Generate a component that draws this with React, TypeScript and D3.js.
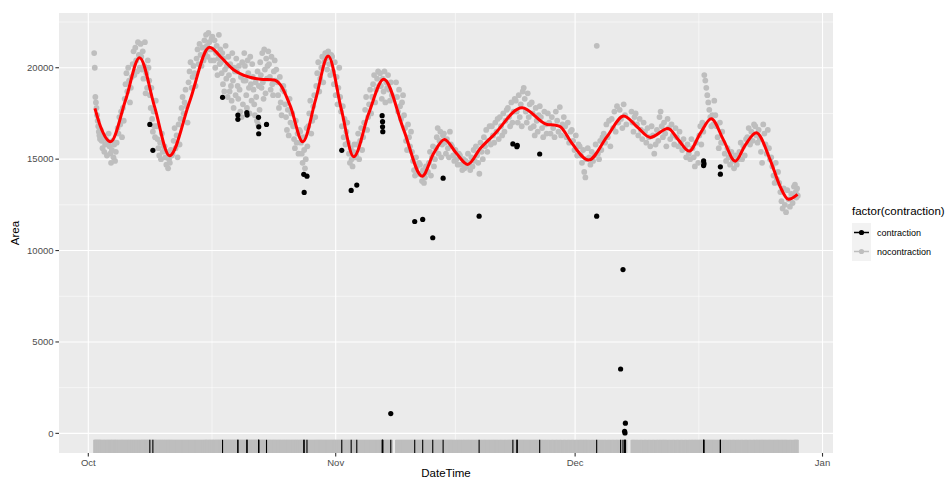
import React, { useEffect, useRef } from "react";
import * as d3 from "d3";

const W = 952;
const H = 482;
const START = Date.UTC(2018, 9, 1); // 1 Oct
const DAY = 86400000;

// red smoothed line: days since 1 Oct / Area
const smoothDays = [0.83, 1.54, 2.79, 4.67, 6.42, 8.3, 10.18, 12.69, 15.19, 16.57, 18.24, 21.58, 23.25, 24.08, 25.34, 26.88, 28.47, 30.06, 31.72, 33.26, 35.14, 37.02, 39.53, 41.83, 43.28, 44.62, 46.12, 47.54, 49.13, 50.8, 54.35, 57.48, 58.52, 59.15, 60.61, 62.7, 65.0, 67.09, 68.75, 70.42, 72.64, 73.97, 75.3, 76.68, 78.06, 79.6, 81.07, 82.32, 83.7, 85.45, 86.7, 87.74, 88.87];
const smoothArea = [17780, 16770, 15950, 18230, 20550, 17870, 15190, 18140, 21120, 20600, 19880, 19370, 19330, 19060, 17870, 15950, 18240, 20640, 17690, 15130, 17510, 19370, 16590, 14070, 15320, 16080, 15320, 14710, 15590, 16320, 17810, 16900, 16860, 16770, 15860, 14950, 16230, 17360, 16770, 16190, 16670, 16040, 15440, 16410, 17210, 16040, 14890, 15770, 16440, 14950, 13490, 12800, 13070];

// contraction points
const contractionDays = [7.71, 8.09, 16.82, 18.74, 18.74, 19.86, 19.9, 21.33, 21.36, 21.35, 22.33, 27.0, 27.4, 27.05, 31.76, 32.94, 33.64, 36.82, 36.87, 36.87, 36.9, 37.9, 40.9, 41.9, 43.16, 44.46, 48.97, 53.2, 53.7, 53.75, 56.56, 63.7, 66.7, 67.0, 67.2, 67.3, 67.25, 77.1, 77.15, 77.1, 79.2, 79.2];
const contractionArea = [16900, 15480, 18380, 17410, 17180, 17540, 17410, 17290, 16770, 16390, 16900, 14170, 14070, 13180, 15480, 13290, 13580, 17380, 17050, 16770, 16500, 1080, 11590, 11700, 10700, 13960, 11880, 15830, 15680, 15750, 15280, 11880, 3520, 8960, 110, 560, 20, 14900, 14750, 14650, 14580, 14180];

// noncontraction samples: [from day, to day, consecutive Area readings]
const noncontractionRows: [number, number, number[]][] = [
  [0.7, 1.5, [20800, 20000, 18400, 18100, 17800, 17400, 17100, 16800, 16500, 16300, 16100]],
  [1.5, 2.5, [16600, 16000, 15600, 16300, 15400, 15800, 16100, 15200, 15900]],
  [2.5, 3.5, [16400, 15700, 15300, 14800, 15500, 16000, 15100, 15800, 14900, 15400]],
  [3.5, 4.5, [15900, 16700, 16400, 17300, 16900, 17600, 16200, 17800, 17100]],
  [4.5, 5.5, [18300, 19100, 19700, 18700, 20000, 19300, 18100, 18900, 19500]],
  [5.5, 6.5, [20200, 20900, 19600, 21100, 20400, 19800, 21400, 20700, 20000]],
  [6.5, 7.5, [21300, 20600, 19900, 20900, 19400, 20100, 21400, 18600, 19700, 18900, 20400]],
  [7.5, 8.5, [20000, 19300, 18500, 17800, 18900, 17200, 16500, 17600, 16800, 16200, 18200]],
  [8.5, 9.5, [16800, 16100, 15600, 15200, 15900, 15000, 16400, 15400, 15700]],
  [9.5, 10.5, [15700, 15100, 14700, 15400, 14500, 15000, 14800, 15500, 15200]],
  [10.5, 11.5, [15300, 16000, 16700, 15600, 16300, 15100, 16900, 15800]],
  [11.5, 12.5, [17200, 17800, 18400, 17500, 18100, 18800, 17900, 17000]],
  [12.5, 13.5, [19200, 19800, 20300, 18900, 19500, 20100, 19700, 19000]],
  [13.5, 14.5, [20500, 21000, 20200, 21300, 20700, 20100, 21100, 20400]],
  [14.5, 15.5, [21500, 20800, 21800, 21200, 20600, 21900, 21400, 21000, 20400, 21600]],
  [15.5, 16.5, [21700, 21000, 20400, 21500, 20000, 20800, 21200, 19600, 20500, 21800, 20200]],
  [16.5, 17.5, [21000, 20300, 19700, 20800, 19100, 20500, 18700, 19900, 21200, 19400, 20100, 18400]],
  [17.5, 18.5, [20600, 19600, 18700, 20200, 19000, 18200, 20800, 19300, 17800, 20000, 19800, 18500]],
  [18.5, 19.5, [20500, 19800, 19000, 18300, 20100, 18800, 17600, 19500, 17300, 20300, 18000, 19300]],
  [19.5, 20.5, [20800, 20100, 19300, 18500, 17800, 20400, 19700, 18900, 17500, 20600, 19100, 18200]],
  [20.5, 21.5, [20200, 19500, 18800, 18000, 17400, 19200, 18400, 17100, 19800, 16900, 19000, 17700]],
  [21.5, 22.5, [20300, 19600, 18900, 20800, 19200, 18300, 21000, 19900, 18600, 20500, 19400, 20100]],
  [22.5, 23.5, [20900, 20200, 19500, 18800, 20600, 19100, 18500, 19800, 20400, 19300]],
  [23.5, 24.5, [19900, 19200, 18500, 17800, 19500, 18100, 17400, 18800, 19000]],
  [24.5, 25.5, [18700, 18000, 17300, 16600, 17700, 16300, 18300, 17000, 17500]],
  [25.5, 26.5, [17500, 16800, 16100, 15600, 17100, 15900, 16400, 15300, 16600]],
  [26.5, 27.5, [16500, 15900, 15300, 14800, 16200, 15500, 14500, 15000, 16700, 15700]],
  [27.5, 28.5, [16800, 17500, 18200, 16400, 17100, 17900, 18500, 17300]],
  [28.5, 29.5, [19000, 19700, 20300, 18700, 19400, 20000, 20600, 19200]],
  [29.5, 30.5, [20300, 20800, 20500, 19900, 20900, 20200, 19600, 20700]],
  [30.5, 31.5, [20600, 19800, 19100, 20300, 18500, 19500, 18000, 18900, 20000]],
  [31.5, 32.5, [18400, 17600, 16800, 17900, 16200, 17200, 15800, 16500, 17000]],
  [32.5, 33.5, [15900, 15300, 14800, 15600, 15000, 14600, 15400, 15800, 15100]],
  [33.5, 34.5, [15200, 15800, 16400, 15000, 16000, 16700, 15500, 16200]],
  [34.5, 35.5, [17000, 17700, 18400, 16600, 17300, 18000, 18800, 17500]],
  [35.5, 36.5, [18400, 19100, 19600, 18100, 18800, 19400, 19800, 19000]],
  [36.5, 37.5, [19700, 19000, 18300, 19400, 18700, 19800, 18100, 19200, 18900]],
  [37.5, 38.1, [19600, 18800, 18200, 19200, 18500]],
  [38.5, 39.5, [19200, 18400, 17600, 18800, 17900, 17200, 18100, 18500]],
  [39.5, 40.5, [17400, 16700, 16000, 15500, 16900, 16200, 15700, 16500]],
  [40.5, 41.5, [15400, 14900, 14400, 14100, 15100, 14600, 14200, 14800]],
  [41.5, 42.5, [14700, 14200, 13800, 14400, 13700, 14000, 14600, 14300]],
  [42.5, 43.5, [14300, 14800, 15400, 14100, 15100, 15700, 14600, 15000]],
  [43.5, 44.5, [15600, 16200, 16700, 15300, 16000, 16500, 15100, 15800, 16300]],
  [44.5, 45.5, [16400, 15900, 15300, 16100, 15600, 15100, 16500, 15800]],
  [45.5, 46.5, [15700, 15200, 14900, 15500, 15000, 14700, 15300]],
  [46.5, 47.5, [15200, 14700, 14400, 15000, 14500, 14900, 14600]],
  [47.5, 48.5, [15300, 14800, 14400, 15100, 14600, 15500, 14900]],
  [48.5, 49.5, [15700, 15200, 14800, 14200, 15900, 15400, 15000]],
  [49.5, 50.5, [16200, 15700, 16600, 15400, 16000, 16800, 15800]],
  [50.5, 51.5, [16800, 16300, 15900, 17000, 16500, 17200, 16100]],
  [51.5, 52.5, [17300, 16800, 16300, 17500, 16500, 17100, 17700]],
  [52.5, 53.5, [17800, 17300, 16800, 18100, 17000, 17600, 18300]],
  [53.5, 54.5, [18200, 17600, 17000, 18500, 17300, 18000, 16800, 18700]],
  [54.5, 55.5, [18900, 18300, 17600, 17000, 18600, 17300, 18000, 16700]],
  [55.5, 56.5, [18100, 17500, 16800, 16300, 17800, 17100, 16500, 17400]],
  [56.5, 57.5, [17900, 17300, 16700, 16200, 17600, 16900, 16400]],
  [57.5, 58.5, [17500, 17000, 16400, 17300, 16700, 16200]],
  [58.5, 59.5, [17600, 17100, 16500, 17850, 16300, 16900]],
  [59.5, 60.5, [17300, 16800, 16200, 17000, 15900, 16500]],
  [60.5, 61.5, [16600, 16000, 15500, 16300, 15200, 15800]],
  [61.5, 62.5, [15700, 15200, 14800, 15500, 14300, 14000, 15000]],
  [62.5, 63.5, [15600, 15100, 14700, 15400, 14900, 15200]],
  [63.5, 64.5, [15800, 21200, 15300, 15000, 16000, 15500, 16200]],
  [64.5, 65.5, [16400, 15900, 16900, 16200, 17100, 15700]],
  [65.5, 66.5, [17200, 16700, 17600, 16500, 17900, 17000]],
  [66.5, 67.5, [17700, 17200, 16700, 18000, 17400, 16900]],
  [68.0, 68.5, [17600, 17000, 16500, 17300]],
  [68.5, 69.5, [17500, 16900, 16300, 17200, 16600, 16100]],
  [69.5, 70.5, [17000, 16500, 15900, 16700, 16200, 15700]],
  [70.5, 71.5, [16800, 16300, 15300, 15800, 16600, 16000]],
  [71.5, 72.5, [17300, 17600, 16800, 16200, 17000, 16400, 15700]],
  [72.5, 73.5, [17200, 16700, 16100, 16900, 16300, 15800]],
  [73.5, 74.5, [16700, 16200, 15700, 16500, 15900, 15500]],
  [74.5, 75.5, [16100, 15600, 15100, 15800, 15300, 15000]],
  [75.5, 76.5, [16100, 15600, 15100, 14600, 15900, 15300, 14800]],
  [76.5, 77.5, [16300, 16800, 15800, 17000, 16500, 19600, 19300, 18900]],
  [77.5, 78.5, [18500, 18100, 17700, 17300, 16800, 17400, 16900, 18200]],
  [78.5, 79.5, [17400, 16800, 16200, 15600, 17000, 15900, 16500]],
  [79.5, 80.5, [15900, 15300, 14900, 15600, 15100, 14700]],
  [80.5, 81.5, [15400, 14900, 14500, 15200, 14700, 15000]],
  [81.5, 82.5, [15400, 15900, 15000, 15700, 15200, 16100]],
  [82.5, 83.5, [16200, 16700, 15800, 16500, 16000, 16900]],
  [83.5, 84.5, [16800, 16300, 15900, 16600, 16100, 15400, 14800]],
  [84.5, 85.5, [16900, 16400, 15800, 15300, 16600, 15600, 15000]],
  [85.5, 86.5, [15100, 14600, 14100, 13700, 14800, 13900, 14300]],
  [86.5, 87.5, [13700, 13200, 12700, 12300, 13400, 12500, 12100]],
  [87.5, 88.5, [13300, 12800, 12400, 13100, 12600, 13500]],
  [88.5, 88.95, [13600, 13200, 12900, 13400, 13000]],
];

const yBreaks = [0, 5000, 10000, 15000, 20000];
const yMinor = [2500, 7500, 12500, 17500, 22500];
const legendLabels = ["contraction", "nocontraction"];
const legendColors = ["#000000", "#BEBEBE"];

const FONT = "'Liberation Sans', Arial, sans-serif";

const toDate = (t: number) => new Date(START + t * DAY);

export default function App() {
  const svgRef = useRef<SVGSVGElement>(null);

  useEffect(() => {
    const svg = d3.select(svgRef.current);
    svg.selectAll("*").remove();

    const gray = noncontractionRows.flatMap(([t0, t1, vals]) =>
      vals.map((v, i) => ({ t: t0 + ((i + 0.5) * (t1 - t0)) / vals.length, v }))
    );
    const black = contractionDays.map((t, i) => ({ t, v: contractionArea[i] }));
    const all = [...gray, ...black];

    const left = 59, right = 833, top = 13, bottom = 453;

    const [tMin, tMax] = d3.extent(all, (d) => d.t) as [number, number];
    const [vMin, vMax] = d3.extent(all, (d) => d.v) as [number, number];
    const tPad = (tMax - tMin) * 0.05;
    const vPad = (vMax - vMin) * 0.05;

    const x = d3.scaleUtc().domain([toDate(tMin - tPad), toDate(tMax + tPad)]).range([left, right]);
    const y = d3.scaleLinear().domain([vMin - vPad, vMax + vPad]).range([bottom, top]);

    // panel
    svg.append("rect").attr("x", left).attr("y", top).attr("width", right - left).attr("height", bottom - top).attr("fill", "#EBEBEB");

    const months = d3.utcMonth.range(x.domain()[0], x.domain()[1]);
    const xMinor = months.slice(1).map((m, i) => new Date((m.getTime() + months[i].getTime()) / 2));

    const grid = svg.append("g");
    grid.selectAll(".ymin").data(yMinor).join("line")
      .attr("x1", left).attr("x2", right).attr("y1", (d) => y(d)).attr("y2", (d) => y(d))
      .attr("stroke", "#fff").attr("stroke-width", 0.55);
    grid.selectAll(".xmin").data(xMinor).join("line")
      .attr("y1", top).attr("y2", bottom).attr("x1", (d) => x(d)).attr("x2", (d) => x(d))
      .attr("stroke", "#fff").attr("stroke-width", 0.55);
    grid.selectAll(".ymaj").data(yBreaks).join("line")
      .attr("x1", left).attr("x2", right).attr("y1", (d) => y(d)).attr("y2", (d) => y(d))
      .attr("stroke", "#fff").attr("stroke-width", 1.1);
    grid.selectAll(".xmaj").data(months).join("line")
      .attr("y1", top).attr("y2", bottom).attr("x1", (d) => x(d)).attr("x2", (d) => x(d))
      .attr("stroke", "#fff").attr("stroke-width", 1.1);

    // points
    svg.append("g").selectAll("circle").data(gray).join("circle")
      .attr("cx", (d) => x(toDate(d.t))).attr("cy", (d) => y(d.v)).attr("r", 2.9).attr("fill", "#BEBEBE");
    svg.append("g").selectAll("circle").data(black).join("circle")
      .attr("cx", (d) => x(toDate(d.t))).attr("cy", (d) => y(d.v)).attr("r", 2.6).attr("fill", "#000");

    // smooth
    const line = d3.line<number>()
      .x((d) => x(toDate(d)))
      .y((_, i) => y(smoothArea[i]))
      .curve(d3.curveMonotoneX);
    svg.append("path").attr("d", line(smoothDays)).attr("fill", "none").attr("stroke", "#FF0000").attr("stroke-width", 3);

    // rug
    const rugLen = 0.03 * (bottom - top);
    const rug = svg.append("g");
    rug.selectAll(".g").data(gray).join("line")
      .attr("x1", (d) => x(toDate(d.t))).attr("x2", (d) => x(toDate(d.t)))
      .attr("y1", bottom).attr("y2", bottom - rugLen).attr("stroke", "#BEBEBE").attr("stroke-width", 2);
    rug.selectAll(".b").data(black).join("line")
      .attr("x1", (d) => x(toDate(d.t))).attr("x2", (d) => x(toDate(d.t)))
      .attr("y1", bottom).attr("y2", bottom - rugLen).attr("stroke", "#000").attr("stroke-width", 1.1);

    // axes
    const ax = svg.append("g").attr("font-family", FONT);
    ax.selectAll(".yt").data(yBreaks).join("line")
      .attr("x1", left - 3.6).attr("x2", left).attr("y1", (d) => y(d)).attr("y2", (d) => y(d))
      .attr("stroke", "#333").attr("stroke-width", 1.1);
    ax.selectAll(".yl").data(yBreaks).join("text")
      .attr("x", left - 5.5).attr("y", (d) => y(d)).attr("dy", "0.35em")
      .attr("text-anchor", "end").attr("font-size", 9.5).attr("fill", "#4D4D4D").text((d) => String(d));
    ax.selectAll(".xt").data(months).join("line")
      .attr("x1", (d) => x(d)).attr("x2", (d) => x(d)).attr("y1", bottom).attr("y2", bottom + 3.6)
      .attr("stroke", "#333").attr("stroke-width", 1.1);
    const fmt = d3.utcFormat("%b");
    ax.selectAll(".xl").data(months).join("text")
      .attr("x", (d) => x(d)).attr("y", bottom + 13)
      .attr("text-anchor", "middle").attr("font-size", 9.5).attr("fill", "#4D4D4D").text((d) => fmt(d));
    ax.append("text").attr("x", (left + right) / 2).attr("y", 477)
      .attr("text-anchor", "middle").attr("font-size", 11.5).attr("fill", "#000").text("DateTime");
    ax.append("text").attr("transform", `translate(19,${(top + bottom) / 2}) rotate(-90)`)
      .attr("text-anchor", "middle").attr("font-size", 11.5).attr("fill", "#000").text("Area");

    // legend
    const lg = svg.append("g").attr("font-family", FONT);
    lg.append("text").attr("x", 852).attr("y", 215).attr("font-size", 11.5).attr("fill", "#000").text("factor(contraction)");
    const key = 19;
    const k = lg.selectAll("g").data(legendLabels).join("g")
      .attr("transform", (_, i) => `translate(852,${223 + i * key})`);
    k.append("rect").attr("width", key).attr("height", key).attr("fill", "#F2F2F2");
    k.append("line").attr("x1", 2).attr("x2", key - 2).attr("y1", key / 2).attr("y2", key / 2)
      .attr("stroke", (_, i) => legendColors[i]).attr("stroke-width", 1.5);
    k.append("circle").attr("cx", key / 2).attr("cy", key / 2).attr("r", 2.6).attr("fill", (_, i) => legendColors[i]);
    k.append("text").attr("x", key + 6).attr("y", key / 2).attr("dy", "0.35em")
      .attr("font-size", 9).attr("fill", "#000").text((d) => d);
  }, []);

  return <svg ref={svgRef} width={W} height={H} style={{ position: "absolute", left: 0, top: 0, background: "#fff" }} />;
}
